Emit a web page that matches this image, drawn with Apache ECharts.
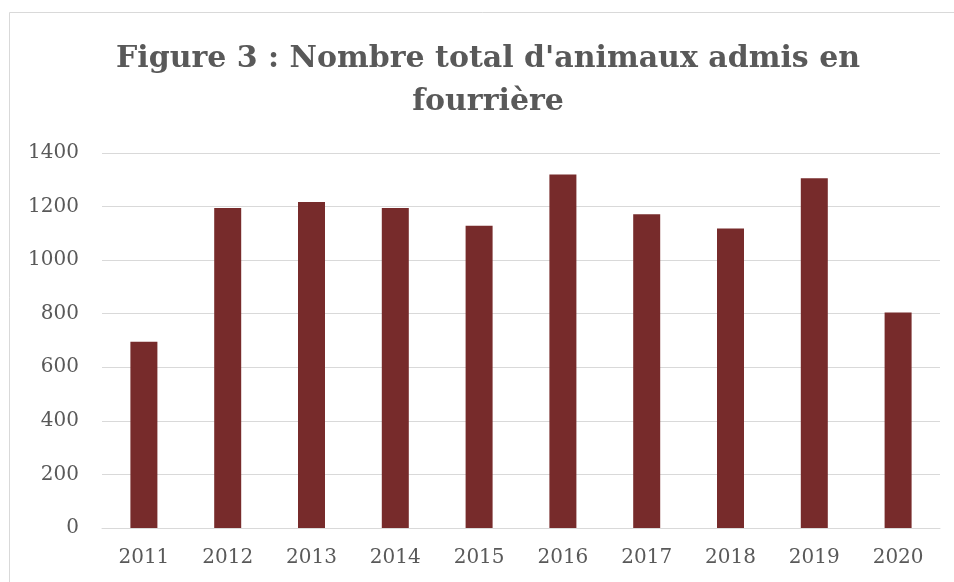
<!DOCTYPE html>
<html>
<head>
<meta charset="utf-8">
<script src="https://cdn.jsdelivr.net/npm/echarts@6/dist/echarts.min.js"></script>
<style>
  html, body { margin: 0; padding: 0; background: #fff; }
  #container { width: 954px; height: 582px; }
</style>
</head>
<body>
<div id="container"></div>
<script>
var years = ['2011', '2012', '2013', '2014', '2015', '2016', '2017', '2018', '2019', '2020'];
var admissions = [695, 1195, 1217, 1195, 1128, 1320, 1171, 1118, 1306, 805];
var yTicks = { min: 0, max: 1400, step: 200 };

var myChart = echarts.init(document.getElementById('container'));

var textColor = '#595959';
var fontSerif = '"DejaVu Serif", "Liberation Serif", serif';

var options = {
    backgroundColor: '#fff',
    animation: false,
    title: {
        text: "Figure 3 : Nombre total d'animaux admis en\nfourrière",
        left: 483,
        textAlign: 'center',
        top: 33,
        textStyle: {
            fontFamily: fontSerif,
            fontWeight: 'bold',
            fontSize: 30,
            lineHeight: 43,
            color: textColor
        }
    },
    // cadre gris du graphique
    graphic: [{
        type: 'rect',
        shape: { x: 9.5, y: 12.5, width: 960, height: 600 },
        style: { fill: 'none', stroke: '#d9d9d9', lineWidth: 1 },
        silent: true
    }],
    grid: {
        left: 102,
        right: 14,
        top: 153,
        bottom: 54
    },
    xAxis: {
        type: 'category',
        data: years,
        axisTick: { show: false },
        axisLine: { lineStyle: { color: '#d9d9d9', width: 1 } },
        axisLabel: {
            color: textColor,
            fontFamily: fontSerif,
            fontSize: 20,
            margin: 20
        }
    },
    yAxis: {
        type: 'value',
        min: yTicks.min,
        max: yTicks.max,
        interval: yTicks.step,
        axisLine: { show: false },
        axisTick: { show: false },
        splitLine: { lineStyle: { color: '#d9d9d9', width: 1 } },
        axisLabel: {
            color: textColor,
            fontFamily: fontSerif,
            fontSize: 20,
            margin: 23,
            formatter: function (v) { return String(v); }
        }
    },
    series: [{
        type: 'bar',
        data: admissions,
        barWidth: 27,
        itemStyle: { color: '#772B2B' }
    }]
};

myChart.setOption(options);
</script>
</body>
</html>
